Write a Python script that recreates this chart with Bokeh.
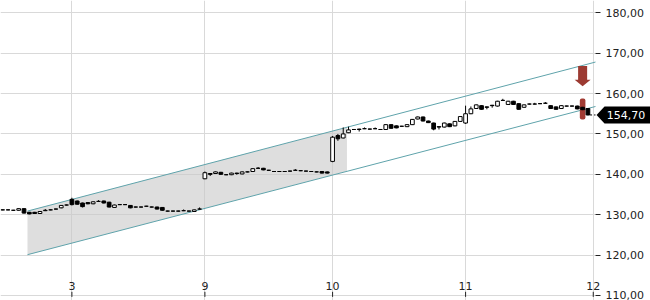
from bokeh.plotting import figure
from bokeh.models import FixedTicker, ColumnDataSource
from bokeh.core.properties import value
from bokeh.embed import file_html
from bokeh.resources import INLINE

# ---------------- data ----------------
opens = [131.2, 131.2, 131.1, 131.1, 131.5, 130.6, 130.6, 130.3, 131.0, 131.2,
         131.4, 131.7, 132.4, 133.8, 133.4, 132.9, 133.0, 132.7, 133.3, 133.4,
         133.1, 131.8, 132.5, 132.5, 132.3, 131.9, 131.9, 132.1, 131.9, 131.9,
         131.8, 130.9, 130.9, 130.9, 131.0, 130.9, 130.8, 131.4, 138.9, 140.2,
         140.2, 140.5, 139.9, 139.9, 140.3, 140.1, 140.6, 140.7, 141.5, 141.5,
         141.0, 140.7, 140.7, 140.7, 140.8, 141.0, 140.9, 140.8, 140.7, 140.6,
         140.7, 140.6, 143.2, 149.6, 149.0, 150.3, 151.1, 151.2, 151.3, 151.2,
         151.3, 151.1, 151.1, 152.3, 152.0, 151.9, 151.8, 152.3, 153.7, 154.2,
         153.2, 152.7, 151.8, 151.7, 152.5, 152.0, 153.1, 152.7, 155.0, 156.3,
         157.0, 156.7, 157.1, 156.9, 158.3, 157.3, 158.1, 157.5, 156.6, 157.4,
         157.4, 157.5, 157.6, 157.0, 156.7, 156.3, 156.9, 156.9, 156.9, 156.6,
         156.3]
closes = [131.2, 131.2, 131.1, 131.5, 130.4, 130.2, 130.3, 130.8, 131.1, 131.2,
          131.4, 132.3, 132.4, 132.5, 132.6, 132.0, 132.7, 133.2, 133.3, 132.9,
          131.9, 132.4, 132.5, 132.5, 131.7, 131.9, 131.9, 132.1, 131.9, 131.4,
          131.1, 130.9, 130.9, 130.9, 131.0, 130.9, 131.2, 131.4, 140.4, 140.0,
          140.6, 140.0, 139.9, 140.3, 140.2, 140.6, 140.6, 141.4, 141.5, 141.1,
          141.0, 140.7, 140.7, 140.7, 140.8, 141.0, 140.9, 140.8, 140.7, 140.6,
          140.3, 140.3, 149.2, 148.8, 150.0, 151.0, 151.1, 151.1, 151.3, 151.2,
          151.3, 151.1, 152.3, 151.4, 151.5, 151.9, 152.3, 153.6, 154.2, 153.2,
          152.8, 151.2, 151.7, 152.7, 151.8, 153.1, 154.3, 155.0, 156.2, 157.2,
          156.1, 156.6, 157.0, 158.1, 158.3, 158.1, 157.3, 156.1, 157.2, 157.4,
          157.4, 157.5, 157.6, 156.3, 156.1, 157.0, 156.9, 156.9, 156.2, 156.0,
          154.7]
highs = [131.3, 131.3, 131.2, 131.6, 131.6, 130.7, 130.7, 130.9, 131.4, 131.3,
         131.5, 132.4, 132.5, 134.2, 133.5, 133.0, 133.1, 133.3, 133.6, 133.5,
         133.2, 132.5, 132.6, 132.6, 132.4, 132.0, 132.0, 132.2, 132.0, 132.0,
         131.9, 131.0, 131.0, 131.0, 131.3, 131.0, 131.3, 131.8, 140.7, 140.3,
         140.7, 140.6, 140.0, 140.4, 140.4, 140.7, 140.7, 141.5, 141.8, 141.6,
         141.1, 140.8, 140.8, 140.8, 140.9, 141.3, 141.0, 140.9, 140.8, 140.7,
         140.8, 140.7, 149.5, 150.0, 151.6, 151.8, 151.2, 151.3, 151.6, 151.3,
         151.6, 151.2, 152.4, 152.4, 152.1, 152.0, 152.4, 153.7, 154.3, 154.3,
         153.3, 152.8, 151.9, 152.8, 152.6, 153.2, 154.4, 157.0, 156.8, 157.3,
         157.1, 156.8, 157.2, 158.2, 158.7, 158.2, 158.2, 157.6, 157.3, 157.5,
         157.7, 157.6, 157.9, 157.1, 156.8, 157.1, 157.0, 157.0, 157.0, 156.7,
         156.4]
lows = [131.1, 131.1, 131.0, 131.0, 130.3, 130.1, 130.2, 130.2, 130.9, 131.1,
        131.3, 131.6, 132.3, 132.3, 132.5, 131.8, 132.6, 132.6, 133.2, 132.8,
        131.8, 131.7, 132.4, 132.4, 131.6, 131.8, 131.8, 132.0, 131.8, 131.3,
        131.0, 130.8, 130.8, 130.8, 130.9, 130.8, 130.7, 131.3, 138.8, 139.6,
        140.1, 139.9, 139.8, 139.8, 139.9, 140.0, 140.5, 140.6, 141.4, 141.0,
        140.9, 140.6, 140.6, 140.6, 140.7, 140.9, 140.8, 140.7, 140.6, 140.5,
        140.2, 140.2, 143.0, 148.3, 148.9, 150.2, 151.0, 150.6, 151.2, 151.1,
        151.2, 151.0, 151.0, 151.3, 151.4, 151.8, 151.7, 152.2, 153.6, 153.1,
        152.7, 150.9, 151.1, 151.6, 151.7, 151.9, 153.0, 152.5, 154.9, 156.2,
        156.0, 156.1, 156.5, 156.8, 158.2, 157.2, 157.2, 156.0, 156.5, 157.3,
        157.3, 157.4, 157.5, 156.2, 156.0, 156.2, 156.8, 156.8, 156.1, 155.9,
        154.6]

x_tick_pos = [13, 38, 62, 87, 111]
x_tick_labels = ["3", "9", "10", "11", "12"]
y_ticks = [110, 120, 130, 140, 150, 160, 170, 180]
y_tick_labels = ["110,00", "120,00", "130,00", "140,00", "150,00", "160,00", "170,00", "180,00"]

# trend channel (start / end of the two parallel lines)
channel_x = [4.65, 111.42]
channel_upper = [130.9, 167.8]
channel_lower = [120.1, 156.8]
shade_end_x = 64.7

# signal on the last-but-one candle
signal_idx = 109
signal_box = [153.6, 158.8]
arrow_top, arrow_neck, arrow_tip = 166.8, 163.4, 161.8
last_price = 154.70
last_price_text = "154,70"

# ---------------- figure ----------------
X0, X1 = -0.42, 111.42          # chart area (left edge .. price axis)
XR = X1 + 55 / 5.32             # extra room to the right for the price axis
Y0, Y1 = 108.76, 183.04
p = figure(width=650, height=300, x_range=(X0, XR), y_range=(Y0, Y1),
           x_axis_location=None, y_axis_location="right",
           output_backend="svg", toolbar_location=None,
           min_border_left=0, min_border_top=0, min_border_bottom=0, min_border_right=0)
p.outline_line_color = None
p.background_fill_color = "white"

grid_col = "#d9d9d9"
p.xgrid.ticker = FixedTicker(ticks=x_tick_pos)
p.xgrid.grid_line_color = grid_col
p.ygrid.grid_line_color = grid_col
p.ygrid.cross_bounds = (X0, X1)

p.yaxis.fixed_location = X1
p.yaxis.ticker = FixedTicker(ticks=y_ticks)
p.yaxis.major_label_overrides = {t: l for t, l in zip(y_ticks, y_tick_labels)}
p.yaxis.axis_line_color = None
p.yaxis.major_tick_in = 0
p.yaxis.major_tick_out = 5
p.yaxis.major_tick_line_color = "#222222"
p.yaxis.minor_tick_line_color = None
p.yaxis.major_label_standoff = 5
p.yaxis.major_label_text_font = "DejaVu Sans"
p.yaxis.major_label_text_font_size = "11px"
p.yaxis.major_label_text_color = "#222222"

def lin(x, xs, ys):
    return ys[0] + (ys[1] - ys[0]) * (x - xs[0]) / (xs[1] - xs[0])

# shaded channel portion
sx = [channel_x[0], shade_end_x, shade_end_x, channel_x[0]]
sy = [channel_lower[0], lin(shade_end_x, channel_x, channel_lower),
      lin(shade_end_x, channel_x, channel_upper), channel_upper[0]]
p.patch(sx, sy, fill_color="#c8c8c8", fill_alpha=0.6, line_color=None)

# channel lines
p.line(channel_x, channel_upper, line_color="#5fa3ab", line_width=1)
p.line(channel_x, channel_lower, line_color="#5fa3ab", line_width=1)

# signal highlight + arrow
p.vbar(x=[signal_idx], bottom=[signal_box[0]], top=[signal_box[1]], width=1.05,
       fill_color="#a23b33", line_color=None, border_radius=2)
hw_s, hw_h = 0.85, 1.5
ax = [signal_idx - hw_s, signal_idx + hw_s, signal_idx + hw_s, signal_idx + hw_h,
      signal_idx, signal_idx - hw_h, signal_idx - hw_s]
ay = [arrow_top, arrow_top, arrow_neck, arrow_neck, arrow_tip, arrow_neck, arrow_neck]
p.patch(ax, ay, fill_color="#9c3a32", line_color=None)

# candles
idx = list(range(len(opens)))
up = [c >= o for o, c in zip(opens, closes)]
src = ColumnDataSource(dict(
    x=idx, top=[max(o, c) for o, c in zip(opens, closes)],
    bottom=[min(o, c) for o, c in zip(opens, closes)],
    high=highs, low=lows,
    fill=["white" if u else "black" for u in up]))
p.segment(x0="x", y0="low", x1="x", y1="high", source=src, line_color="black", line_width=1)
p.vbar(x="x", top="top", bottom="bottom", width=0.7, fill_color="fill",
       line_color="black", line_width=1, source=src)

# last price dashed line
p.segment(x0=[len(opens) - 0.6], y0=[last_price], x1=[X1], y1=[last_price],
          line_color="black", line_dash="2 2", line_width=1)

# x tick marks & labels (drawn inside the chart area like the reference)
p.segment(x0=x_tick_pos, x1=x_tick_pos, y0=[Y0 + 0.9] * len(x_tick_pos),
          y1=[Y0 + 2.15] * len(x_tick_pos), line_color="#222222", line_width=1)
p.text(x=x_tick_pos, y=[Y0 + 3.5] * len(x_tick_pos), text=x_tick_labels,
       text_align="center", text_baseline="middle", text_font=value("DejaVu Sans"),
       text_font_size="11px", text_color="#222222")

# price tag on the axis
tag_l, tag_b = X1 + 0.2, X1 + 1.7
p.patch([tag_l, tag_b, XR + 1, XR + 1, tag_b],
        [last_price, last_price + 2.1, last_price + 2.1, last_price - 2.1, last_price - 2.1],
        fill_color="black", line_color=None)
p.text(x=[X1 + 2.1], y=[last_price], text=[last_price_text], text_color="white",
       text_font=value("DejaVu Sans"), text_font_size="11px", text_baseline="middle")

open("out.html", "w").write(file_html(p, INLINE))
